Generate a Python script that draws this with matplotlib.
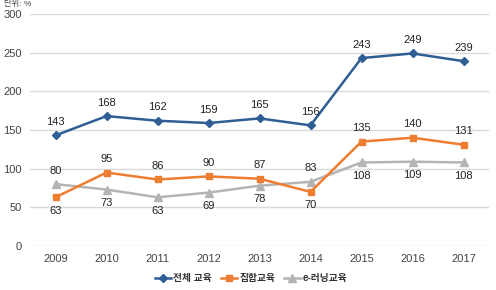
import matplotlib
matplotlib.use("Agg")
import matplotlib.pyplot as plt

plt.rcParams['font.family'] = ['Liberation Sans', 'Noto Sans CJK KR', 'DejaVu Sans']

years = [2009, 2010, 2011, 2012, 2013, 2014, 2015, 2016, 2017]
total = [143, 168, 162, 159, 165, 156, 243, 249, 239]
group = [63, 95, 86, 90, 87, 70, 135, 140, 131]
elearn = [80, 73, 63, 69, 78, 83, 108, 109, 108]
series_names = ['전체 교육', '집합교육', 'e-러닝교육']
yticks = [0, 50, 100, 150, 200, 250, 300]

group_pos = ['b', 't', 't', 't', 't', 'b', 't', 't', 't']
elearn_pos = ['t', 'b', 'b', 'b', 'b', 't', 'b', 'b', 'b']

blue = '#2E5E93'
orange = '#ED7D31'
gray = '#B4B4B4'

fig = plt.figure(figsize=(4.96, 2.9), dpi=100)
ax = fig.add_axes([30/496, 1-246/290, 459/496, 232/290])

ax.plot(years, total, color=blue, lw=1.8, marker='D', ms=4, label=series_names[0], zorder=3)
ax.plot(years, group, color=orange, lw=1.8, marker='s', ms=5, label=series_names[1], zorder=3)
ax.plot(years, elearn, color=gray, lw=1.8, marker='^', ms=5.5, label=series_names[2], zorder=2)

fs = 8
lc = '#222222'
for x, v in zip(years, total):
    ax.annotate(str(v), (x, v), xytext=(0, 6), textcoords='offset points', ha='center', va='bottom', fontsize=fs, color=lc)
for x, v, p in zip(years, group, group_pos):
    off = 6 if p == 't' else -6
    ax.annotate(str(v), (x, v), xytext=(0, off), textcoords='offset points', ha='center',
                va='bottom' if p == 't' else 'top', fontsize=fs, color=lc)
for x, v, p in zip(years, elearn, elearn_pos):
    off = 6 if p == 't' else -6
    ax.annotate(str(v), (x, v), xytext=(0, off), textcoords='offset points', ha='center',
                va='bottom' if p == 't' else 'top', fontsize=fs, color=lc)

ax.set_xlim(2008.5, 2017.5)
ax.set_ylim(0, 300)
ax.set_yticks(yticks)
ax.set_xticks(years)
ax.set_xticklabels([str(y) for y in years])
ax.grid(axis='y', color='#D9D9D9', lw=1)
ax.set_axisbelow(True)
for s in ax.spines.values():
    s.set_visible(False)
ax.tick_params(axis='both', length=0, labelsize=fs, colors='#444444', pad=6)

fig.text(4/496, 0.999, '단위: %', fontsize=6, color='#444444', va='top', ha='left')

leg = fig.legend(loc='center', bbox_to_anchor=(251/496, 1-278/290), ncol=3, frameon=False,
                 fontsize=7, handlelength=1.7, columnspacing=0.9, handletextpad=0.2)
for t in leg.get_texts():
    t.set_fontweight('bold')
    t.set_color('#333333')

fig.savefig('out.png', dpi=100)
